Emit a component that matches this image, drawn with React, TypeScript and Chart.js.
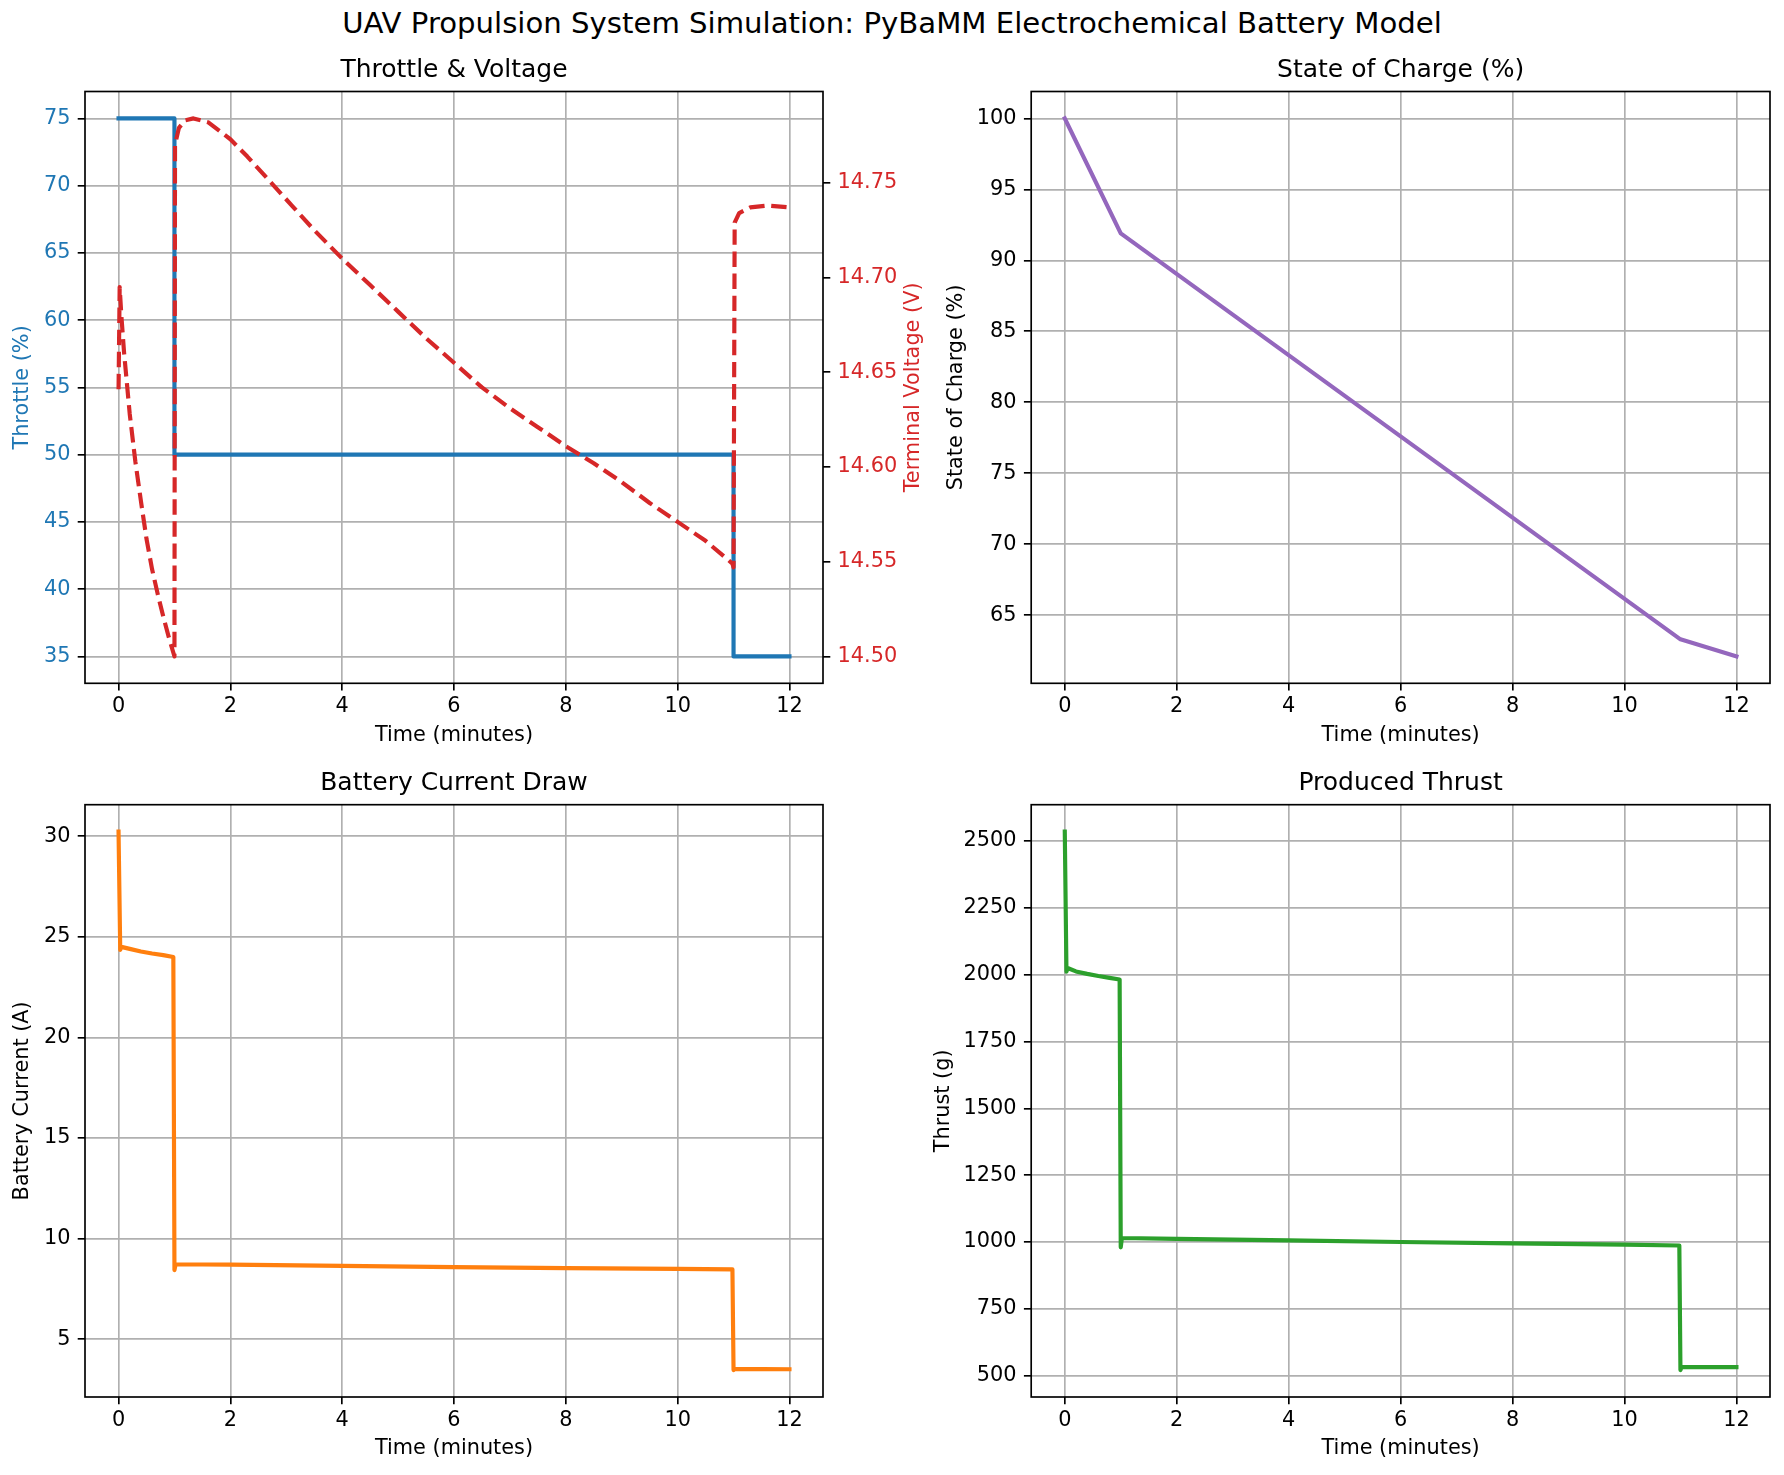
import React, { useEffect, useRef } from "react";
import { Chart, registerables } from "chart.js";

Chart.register(...registerables);

// ---------------- data ----------------
const xTicks = [0, 2, 4, 6, 8, 10, 12];

const throttleTime = [0, 1, 1, 11, 11, 12];
const throttleValues = [75, 75, 50, 50, 35, 35];
const throttleTicks = [35, 40, 45, 50, 55, 60, 65, 70, 75];

const voltageTime = [
  0, 0.02, 0.05, 0.1, 0.2, 0.3, 0.4, 0.5, 0.6, 0.7,
  0.8, 0.9, 0.97, 1.0, 1.01, 1.08, 1.19, 1.34, 1.6, 2.0,
  2.3, 2.7, 3.1, 3.5, 4.0, 4.5, 5.0, 5.5, 6.0, 6.5,
  7.0, 7.5, 8.0, 8.5, 9.0, 9.5, 10.0, 10.5, 10.98, 11.0,
  11.02, 11.1, 11.3, 11.6, 12.0,
];
const voltageValues = [
  14.641, 14.695, 14.68, 14.66, 14.628, 14.603, 14.582, 14.562, 14.546, 14.533,
  14.521, 14.51, 14.503, 14.5, 14.77, 14.779, 14.783, 14.784, 14.782, 14.773,
  14.764, 14.751, 14.738, 14.725, 14.71, 14.696, 14.682, 14.668, 14.655, 14.642,
  14.631, 14.621, 14.611, 14.602, 14.592, 14.581, 14.571, 14.561, 14.549, 14.547,
  14.729, 14.734, 14.737, 14.738, 14.737,
];
const voltageTicks = [14.5, 14.55, 14.6, 14.65, 14.7, 14.75];

const socTime = [0, 1, 11, 12];
const socValues = [100, 91.9, 63.3, 62.1];
const socTicks = [65, 70, 75, 80, 85, 90, 95, 100];

const currentTime = [0, 0.03, 0.05, 0.2, 0.4, 0.6, 0.8, 0.98, 1.0, 1.02, 2, 4, 6, 8, 10, 10.98, 11.0, 11.02, 12];
const currentValues = [30.23, 24.35, 24.5, 24.4, 24.27, 24.17, 24.09, 24.0, 8.43, 8.72, 8.7, 8.64, 8.58, 8.53, 8.49, 8.47, 3.46, 3.52, 3.5];
const currentTicks = [5, 10, 15, 20, 25, 30];

const thrustTime = [0, 0.03, 0.05, 0.2, 0.4, 0.6, 0.8, 0.98, 1.0, 1.02, 2, 4, 6, 8, 10, 10.98, 11.0, 11.02, 12];
const thrustValues = [2535, 2011, 2025, 2012, 2003, 1995, 1988, 1982, 980, 1015, 1012, 1006, 1000, 995, 990, 987, 521, 533, 532];
const thrustTicks = [500, 750, 1000, 1250, 1500, 1750, 2000, 2250, 2500];

// ---------------- style ----------------
const PT = 150 / 72;
const FONT = "'DejaVu Sans', sans-serif";
const TICK_FS = 10 * PT;
const TITLE_FS = 12 * PT;
const SUP_FS = 14 * PT;
const LINE_W = 2 * PT;
const THIN = 0.8 * PT;
const TICK_LEN = 3.5 * PT;
const GRID_COLOR = "#b0b0b0";
const BLUE = "#1f77b4";
const RED = "#d62728";
const PURPLE = "#9467bd";
const ORANGE = "#ff7f0e";
const GREEN = "#2ca02c";

const pts = (xs: number[], ys: number[]) => xs.map((x, i) => ({ x, y: ys[i] }));
const padRange = (vals: number[]) => {
  const mn = Math.min(...vals);
  const mx = Math.max(...vals);
  const m = 0.05 * (mx - mn);
  return [mn - m, mx + m];
};
const xRange = padRange([...throttleTime, ...voltageTime, ...socTime]);

function lineDs(data: any[], color: string, yAxisID = "y", dashed = false) {
  return {
    data,
    borderColor: color,
    backgroundColor: color,
    borderWidth: LINE_W,
    pointRadius: 0,
    tension: 0,
    fill: false,
    yAxisID,
    borderDash: dashed ? [3.7 * LINE_W, 1.6 * LINE_W] : [],
    borderCapStyle: dashed ? "butt" : "square",
    borderJoinStyle: "round",
  };
}

function yScale(range: number[], ticks: number[], fmt: (v: number) => string, color: string, position: string, width: number, grid: boolean) {
  return {
    type: "linear",
    position,
    min: range[0],
    max: range[1],
    bounds: "data",
    afterBuildTicks: (s: any) => {
      s.ticks = ticks.map((v) => ({ value: v }));
    },
    afterFit: (s: any) => {
      s.width = width;
    },
    ticks: {
      font: { family: FONT, size: TICK_FS },
      color,
      padding: TICK_LEN,
      autoSkip: false,
      callback: (v: number) => fmt(v),
    },
    grid: {
      drawOnChartArea: grid,
      color: GRID_COLOR,
      lineWidth: THIN,
      tickColor: "#000",
      tickWidth: THIN,
      tickLength: TICK_LEN,
    },
    border: { display: false },
  };
}

function vtext(ctx: CanvasRenderingContext2D, text: string, x: number, y: number, color: string) {
  ctx.save();
  ctx.translate(x, y);
  ctx.rotate(-Math.PI / 2);
  ctx.fillStyle = color;
  ctx.textAlign = "center";
  ctx.textBaseline = "middle";
  ctx.font = `${TICK_FS}px ${FONT}`;
  ctx.fillText(text, 0, 0);
  ctx.restore();
}

function buildConfig(p: any) {
  const { box, area } = p;
  const scales: any = {
    x: {
      type: "linear",
      min: xRange[0],
      max: xRange[1],
      bounds: "data",
      afterBuildTicks: (s: any) => {
        s.ticks = xTicks.map((v) => ({ value: v }));
      },
      afterFit: (s: any) => {
        s.height = box.y + box.h - area.B;
      },
      ticks: {
        font: { family: FONT, size: TICK_FS },
        color: "#000",
        padding: 3.7,
        autoSkip: false,
        maxRotation: 0,
        minRotation: 0,
        callback: (v: number) => String(v),
      },
      grid: {
        color: GRID_COLOR,
        lineWidth: THIN,
        tickColor: "#000",
        tickWidth: THIN,
        tickLength: TICK_LEN,
      },
      border: { display: false },
    },
    y: yScale(p.yRange, p.yTicks, p.yFmt, p.tickColor, "left", area.L - box.x, true),
  };
  if (p.y2) {
    scales.y2 = yScale(p.y2.range, p.y2.ticks, p.y2.fmt, p.y2.tickColor, "right", box.x + box.w - area.R, false);
  }
  const deco = {
    id: "deco",
    afterDatasetsDraw(chart: any) {
      const { ctx, chartArea: a } = chart;
      ctx.save();
      ctx.strokeStyle = "#000";
      ctx.lineWidth = THIN;
      ctx.strokeRect(a.left, a.top, a.right - a.left, a.bottom - a.top);
      ctx.restore();
    },
    afterDraw(chart: any) {
      const { ctx, chartArea: a } = chart;
      const cx = (a.left + a.right) / 2;
      const cy = (a.top + a.bottom) / 2;
      ctx.save();
      ctx.fillStyle = "#000";
      ctx.textAlign = "center";
      ctx.textBaseline = "middle";
      ctx.font = `${TITLE_FS}px ${FONT}`;
      ctx.fillText(p.title, cx, a.top - 21);
      ctx.font = `${TICK_FS}px ${FONT}`;
      ctx.fillText(p.xlabel, cx, a.bottom + 52);
      ctx.restore();
      vtext(ctx, p.ylabel, p.ylabelX - box.x, cy, p.ylabelColor);
      if (p.y2) vtext(ctx, p.y2.label, p.y2.labelX - box.x, cy, p.y2.labelColor);
    },
  };
  return {
    type: "line",
    data: { datasets: p.datasets },
    options: {
      responsive: false,
      maintainAspectRatio: false,
      animation: false,
      devicePixelRatio: 1,
      events: [],
      layout: {
        autoPadding: false,
        padding: { left: 0, top: area.T - box.y, right: p.y2 ? 0 : box.x + box.w - area.R, bottom: 0 },
      },
      plugins: { legend: { display: false }, title: { display: false }, tooltip: { enabled: false } },
      scales,
    },
    plugins: [deco],
  };
}

const fmtInt = (v: number) => String(v);
const fmt2 = (v: number) => v.toFixed(2);

const panels: any[] = [
  {
    key: "tl",
    box: { x: 0, y: 45, w: 940, h: 715 },
    area: { L: 85, T: 91.5, R: 823, B: 683.3 },
    title: "Throttle & Voltage",
    xlabel: "Time (minutes)",
    ylabel: "Throttle (%)",
    ylabelX: 23,
    ylabelColor: BLUE,
    tickColor: BLUE,
    yTicks: throttleTicks,
    yRange: padRange(throttleValues),
    yFmt: fmtInt,
    y2: {
      label: "Terminal Voltage (V)",
      labelX: 913.5,
      labelColor: RED,
      tickColor: RED,
      ticks: voltageTicks,
      range: padRange(voltageValues),
      fmt: fmt2,
    },
    datasets: [
      lineDs(pts(voltageTime, voltageValues), RED, "y2", true),
      lineDs(pts(throttleTime, throttleValues), BLUE, "y"),
    ],
  },
  {
    key: "tr",
    box: { x: 892, y: 45, w: 892, h: 715 },
    area: { L: 1031.2, T: 91.5, R: 1770, B: 683.3 },
    title: "State of Charge (%)",
    xlabel: "Time (minutes)",
    ylabel: "State of Charge (%)",
    ylabelX: 957,
    ylabelColor: "#000",
    tickColor: "#000",
    yTicks: socTicks,
    yRange: padRange(socValues),
    yFmt: fmtInt,
    datasets: [lineDs(pts(socTime, socValues), PURPLE)],
  },
  {
    key: "bl",
    box: { x: 0, y: 760, w: 892, h: 715 },
    area: { L: 85, T: 804.7, R: 823, B: 1397 },
    title: "Battery Current Draw",
    xlabel: "Time (minutes)",
    ylabel: "Battery Current (A)",
    ylabelX: 23,
    ylabelColor: "#000",
    tickColor: "#000",
    yTicks: currentTicks,
    yRange: padRange(currentValues),
    yFmt: fmtInt,
    datasets: [lineDs(pts(currentTime, currentValues), ORANGE)],
  },
  {
    key: "br",
    box: { x: 892, y: 760, w: 892, h: 715 },
    area: { L: 1031.2, T: 804.7, R: 1770, B: 1397 },
    title: "Produced Thrust",
    xlabel: "Time (minutes)",
    ylabel: "Thrust (g)",
    ylabelX: 943.5,
    ylabelColor: "#000",
    tickColor: "#000",
    yTicks: thrustTicks,
    yRange: padRange(thrustValues),
    yFmt: fmtInt,
    datasets: [lineDs(pts(thrustTime, thrustValues), GREEN)],
  },
];

function Panel({ spec }: { spec: any }) {
  const ref = useRef<HTMLCanvasElement | null>(null);
  useEffect(() => {
    if (!ref.current) return;
    const chart = new Chart(ref.current, buildConfig(spec) as any);
    return () => chart.destroy();
  }, [spec]);
  const { x, y, w, h } = spec.box;
  return (
    <canvas
      ref={ref}
      width={w}
      height={h}
      style={{ position: "absolute", left: x, top: y, width: w, height: h }}
    />
  );
}

export default function App() {
  return (
    <div
      style={{
        position: "absolute",
        left: 0,
        top: 0,
        width: 1784,
        height: 1475,
        background: "#fff",
        overflow: "hidden",
      }}
    >
      <div
        style={{
          position: "absolute",
          left: 0,
          top: 6,
          width: 1784,
          textAlign: "center",
          fontFamily: FONT,
          fontSize: SUP_FS,
          lineHeight: "34px",
          color: "#000",
          whiteSpace: "nowrap",
        }}
      >
        UAV Propulsion System Simulation: PyBaMM Electrochemical Battery Model
      </div>
      {panels.map((p) => (
        <Panel key={p.key} spec={p} />
      ))}
    </div>
  );
}
